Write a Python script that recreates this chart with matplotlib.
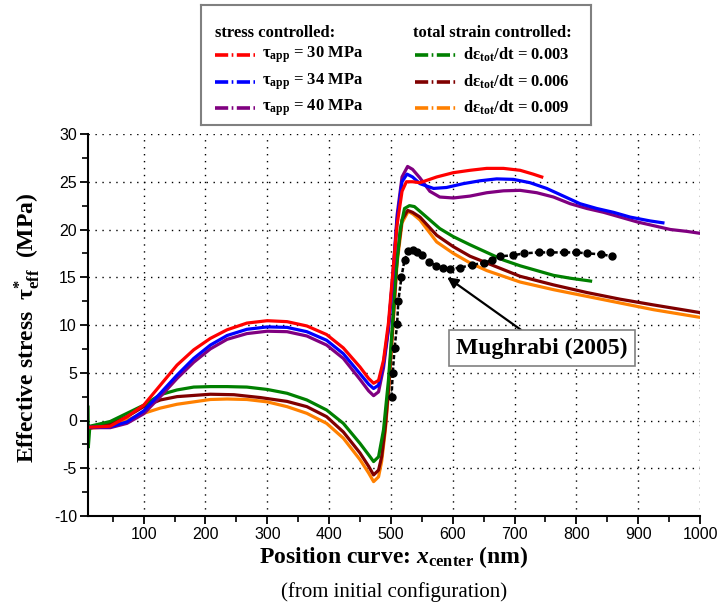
import matplotlib
matplotlib.use("Agg")
import matplotlib.pyplot as plt
from matplotlib.ticker import MultipleLocator
from matplotlib.lines import Line2D

plt.rcParams["font.family"] = ["Liberation Sans", "DejaVu Sans"]
plt.rcParams["axes.unicode_minus"] = False
plt.rcParams["mathtext.fontset"] = "custom"
plt.rcParams["mathtext.rm"] = "Liberation Serif:bold"
plt.rcParams["mathtext.bf"] = "Liberation Serif:bold"
plt.rcParams["mathtext.it"] = "Liberation Serif:italic:bold"
plt.rcParams["lines.scale_dashes"] = False

# stress controlled
red_x = [13, 46, 73, 100, 127, 154, 181, 208, 235, 267, 300, 332, 364, 396, 423, 450, 464, 472, 480, 488,
         496, 502, 510, 518, 525, 535, 547, 574, 601, 628, 655, 682, 709, 730, 744]
red_y = [-0.7, -0.6, 0.4, 1.6, 3.7, 5.8, 7.4, 8.6, 9.5, 10.2, 10.45, 10.35, 9.9, 9.0, 7.6, 5.6, 4.4, 3.9, 4.2, 6.3,
         10.2, 14.7, 20.5, 24.0, 25.0, 25.0, 24.9, 25.5, 25.95, 26.2, 26.4, 26.4, 26.2, 25.8, 25.5]

blue_x = [13, 46, 73, 100, 127, 154, 181, 208, 235, 267, 300, 332, 364, 396, 423, 450, 464, 472, 480, 488,
          496, 503, 510, 518, 526, 535, 547, 569, 590, 617, 644, 671, 698, 725, 752, 779, 806, 833, 860, 887,
          919, 940]
blue_y = [-0.7, -0.65, -0.15, 1.0, 2.85, 4.75, 6.5, 7.9, 8.9, 9.55, 9.8, 9.75, 9.3, 8.4, 7.0, 4.9, 3.8, 3.35, 3.7, 6.0,
          9.7, 15.0, 21.0, 25.0, 25.8, 25.5, 24.8, 24.3, 24.4, 24.8, 25.1, 25.3, 25.25, 24.9, 24.3, 23.5, 22.7, 22.2,
          21.8, 21.3, 20.9, 20.7]

purple_x = [13, 46, 73, 100, 127, 154, 181, 208, 235, 267, 300, 332, 364, 396, 423, 450, 464, 472, 480, 488,
            496, 503, 510, 518, 527, 535, 547, 563, 579, 601, 628, 655, 682, 709, 736, 763, 790, 817, 844, 871,
            898, 925, 952, 979, 1000]
purple_y = [-0.75, -0.75, -0.3, 0.7, 2.5, 4.4, 6.1, 7.5, 8.5, 9.1, 9.35, 9.3, 8.85, 7.9, 6.5, 4.3, 3.1, 2.6, 3.0, 5.5,
            9.5, 15.0, 21.5, 25.5, 26.6, 26.3, 25.4, 24.0, 23.4, 23.3, 23.5, 23.85, 24.05, 24.1, 23.85, 23.4, 22.7,
            22.2, 21.8, 21.3, 20.8, 20.4, 20.0, 19.8, 19.6]

# total strain controlled
green_x = [10, 10.5, 13, 46, 73, 100, 127, 154, 181, 208, 235, 267, 300, 332, 364, 396, 423, 450, 464, 472,
           480, 488, 496, 502, 507, 515, 522, 530, 538, 547, 563, 579, 601, 628, 655, 682, 709, 736, 763, 790, 823]
green_y = [1.4, -2.8, -0.6, -0.1, 0.75, 1.6, 2.7, 3.2, 3.5, 3.55, 3.55, 3.5, 3.25, 2.85, 2.15, 1.1, -0.3, -2.4,
           -3.6, -4.3, -3.8, -1.0, 4.2, 9.5, 14.7, 20.0, 22.2, 22.5, 22.4, 21.9, 21.0, 20.1, 19.25, 18.4, 17.6, 16.8,
           16.2, 15.7, 15.2, 14.9, 14.6]

maroon_x = [13, 46, 73, 100, 127, 154, 208, 246, 289, 332, 364, 396, 423, 450, 464, 472, 480, 485, 491, 496,
            503, 510, 518, 527, 535, 547, 574, 601, 628, 655, 682, 709, 763, 817, 871, 925, 1000]
maroon_y = [-0.8, -0.35, 0.4, 1.45, 2.15, 2.5, 2.75, 2.7, 2.4, 2.0, 1.45, 0.4, -1.2, -3.4, -4.8, -5.7, -5.2, -3.8,
            -0.65, 3.2, 10.0, 17.0, 21.0, 22.0, 21.8, 21.3, 19.4, 18.2, 17.2, 16.5, 15.8, 15.1, 14.2, 13.4, 12.7,
            12.1, 11.3]

orange_x = [13, 46, 73, 100, 127, 154, 208, 235, 267, 300, 332, 364, 396, 423, 450, 464, 472, 480, 485, 491,
            496, 503, 510, 518, 528, 536, 547, 574, 601, 628, 655, 682, 709, 763, 817, 871, 925, 1000]
orange_y = [-0.8, -0.65, 0.05, 0.75, 1.3, 1.7, 2.2, 2.25, 2.2, 1.95, 1.45, 0.75, -0.3, -1.85, -4.1, -5.5, -6.4,
            -5.9, -4.3, -1.0, 2.85, 9.5, 16.5, 20.7, 21.9, 21.6, 21.0, 18.7, 17.5, 16.5, 15.7, 15.1, 14.5, 13.7,
            13.0, 12.3, 11.6, 10.8]

# Mughrabi (2005)
mugh_x = [501, 503, 506, 510, 512, 517, 522, 528, 535, 543, 550, 562, 573, 584, 596, 612, 631, 650, 663, 677,
          698, 715, 739, 757, 780, 800, 818, 840, 858]
mugh_y = [2.5, 5.0, 7.6, 10.1, 12.5, 15.0, 16.8, 17.7, 17.9, 17.6, 17.3, 16.6, 16.2, 16.0, 15.9, 16.0, 16.3, 16.5,
          16.8, 17.2, 17.3, 17.5, 17.6, 17.6, 17.6, 17.6, 17.5, 17.4, 17.2]

stress_labels = ["30", "34", "40"]
strain_labels = ["0.003", "0.006", "0.009"]
stress_colors = ["#ff0000", "#0000ff", "#800080"]
strain_colors = ["#008000", "#800000", "#ff8000"]

fig = plt.figure(figsize=(7.2, 6.15), dpi=100)
ax = fig.add_axes([88 / 720, 1 - 516 / 615, 612 / 720, 382 / 615])

lw = 2.3
ax.plot(orange_x, orange_y, color=strain_colors[2], lw=lw)
ax.plot(maroon_x, maroon_y, color=strain_colors[1], lw=lw)
ax.plot(green_x, green_y, color=strain_colors[0], lw=lw)
ax.plot(purple_x, purple_y, color=stress_colors[2], lw=lw)
ax.plot(blue_x, blue_y, color=stress_colors[1], lw=lw)
ax.plot(red_x, red_y, color=stress_colors[0], lw=lw)
ax.plot(mugh_x, mugh_y, color="black", lw=1.8, ls=(0, (3, 1.5)), marker="o", ms=5, zorder=5)

ax.set_xlim(10, 1000)
ax.set_ylim(-10, 30)
ax.xaxis.set_major_locator(MultipleLocator(100))
ax.xaxis.set_minor_locator(MultipleLocator(50))
ax.yaxis.set_major_locator(MultipleLocator(5))
ax.yaxis.set_minor_locator(MultipleLocator(2.5))
ax.grid(True, which="major", color="black", ls=(0, (1, 4)), lw=1.0)
ax.set_axisbelow(True)
for s in ["top", "right"]:
    ax.spines[s].set_visible(False)
for s in ["left", "bottom"]:
    ax.spines[s].set_linewidth(1.5)
ax.tick_params(which="major", direction="out", length=6, width=1.3, labelsize=11.5, pad=2)
ax.tick_params(which="minor", direction="out", length=4, width=1.2)

# axis labels
fig.text(394 / 720, 1 - 557 / 615, r"Position curve: $\mathit{x}_{\mathbf{center}}$ (nm)",
         family="Liberation Serif", weight="bold", fontsize=17, ha="center", va="center")
fig.text(394 / 720, 1 - 592 / 615, "(from initial configuration)",
         family="Liberation Serif", fontsize=15, ha="center", va="center")
fig.text(27 / 720, 1 - 328 / 615, r"Effective stress  τ$^{*}_{\mathbf{eff}}$  (MPa)",
         family="Liberation Serif", weight="bold", fontsize=17, ha="center", va="center", rotation=90)

# annotation
ax.annotate("Mughrabi (2005)", xy=(591, 15.0), xytext=(744, 7.6),
            family="Liberation Serif", weight="bold", fontsize=17, ha="center", va="center",
            bbox=dict(boxstyle="square,pad=0.3", fc="white", ec="#808080", lw=1.2),
            arrowprops=dict(arrowstyle="-|>", color="black", lw=1.6, relpos=(0.44, 1.0),
                            shrinkA=0, shrinkB=0, mutation_scale=16),
            zorder=6)

# legend box
lg = fig.add_axes([201 / 720, 1 - 125 / 615, 390 / 720, 120 / 615])
lg.set_xlim(0, 390)
lg.set_ylim(120, 0)
lg.set_xticks([])
lg.set_yticks([])
for s in lg.spines.values():
    s.set_edgecolor("#808080")
    s.set_linewidth(1.5)

dash = (0, (9.5, 2.5, 1.2, 2.5))
tfont = dict(family="Liberation Serif", weight="bold", fontsize=12, va="center")
lg.text(14, 28, "stress controlled:", **tfont)
lg.text(212, 28, "total strain controlled:", **tfont)
rows = [50, 77, 103]
for i in range(3):
    lg.add_line(Line2D([14, 54], [rows[i], rows[i]], color=stress_colors[i], lw=2.6, ls=dash))
    lg.text(61, rows[i], "τ$_{\\mathbf{app}}$ = " + stress_labels[i] + " MPa", **tfont)
    lg.add_line(Line2D([214, 256], [rows[i], rows[i]], color=strain_colors[i], lw=2.6, ls=dash))
    lg.text(262, rows[i], "dε$_{\\mathbf{tot}}$/dt = " + strain_labels[i], **tfont)

fig.savefig("out.png", dpi=100)
